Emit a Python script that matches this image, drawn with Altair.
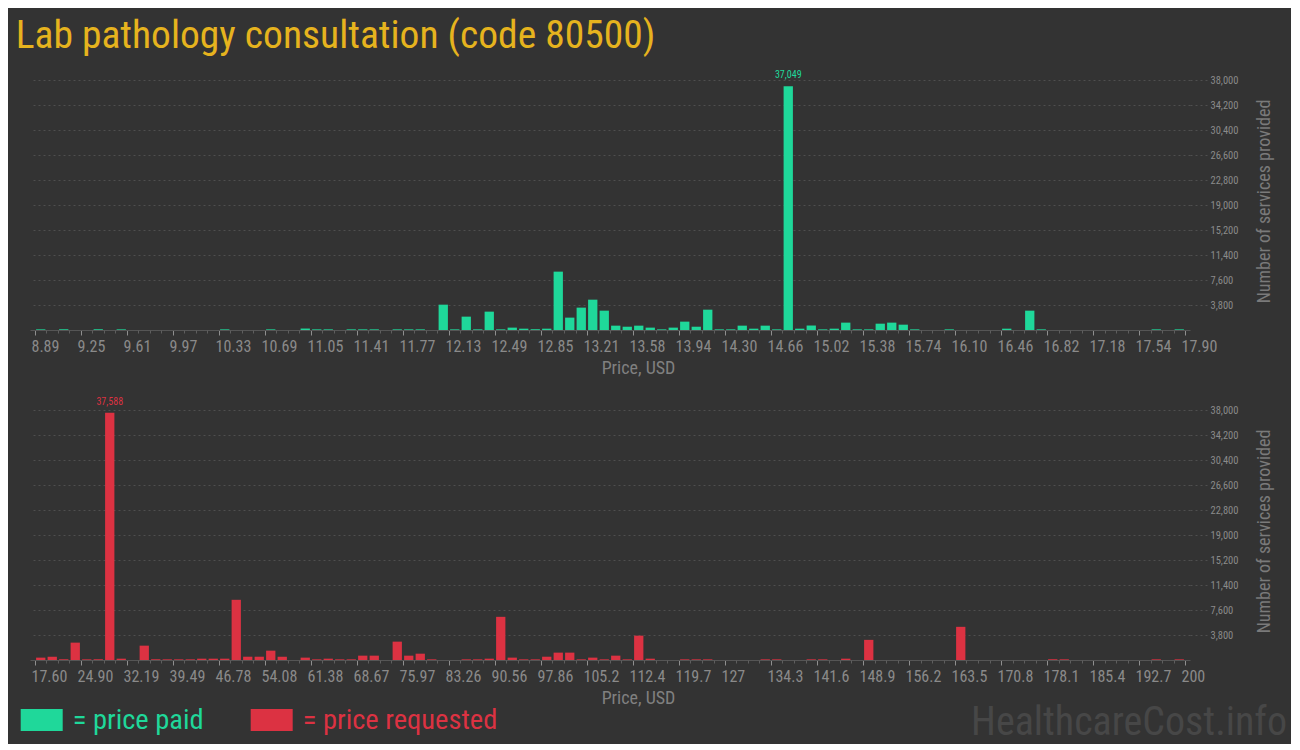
import json
import altair as alt
import pandas as pd

TITLE = "Lab pathology consultation (code 80500)"

paid_labels = ["8.89", "9.25", "9.61", "9.97", "10.33", "10.69", "11.05", "11.41", "11.77",
               "12.13", "12.49", "12.85", "13.21", "13.58", "13.94", "14.30", "14.66", "15.02",
               "15.38", "15.74", "16.10", "16.46", "16.82", "17.18", "17.54", "17.90"]
req_labels = ["17.60", "24.90", "32.19", "39.49", "46.78", "54.08", "61.38", "68.67", "75.97",
              "83.26", "90.56", "97.86", "105.2", "112.4", "119.7", "127", "134.3", "141.6",
              "148.9", "156.2", "163.5", "170.8", "178.1", "185.4", "192.7", "200"]

# number of services per price bin (100 bins per panel)
paid_counts = [
    100, 0, 100, 0, 0, 100, 0, 100, 0, 0,
    0, 0, 0, 0, 0, 0, 100, 0, 0, 0,
    100, 0, 0, 220, 100, 100, 0, 100, 100, 100,
    0, 100, 100, 100, 0, 3850, 100, 2030, 100, 2790,
    100, 360, 200, 120, 200, 8870, 1880, 3400, 4610, 2940,
    660, 500, 660, 360, 100, 360, 1270, 500, 3090, 100,
    100, 660, 200, 660, 100, 37049, 200, 680, 100, 200,
    1120, 100, 100, 960, 1120, 810, 100, 0, 0, 100,
    0, 0, 0, 0, 200, 0, 2940, 100, 0, 0,
    0, 0, 0, 0, 0, 0, 0, 100, 0, 100,
]
req_counts = [
    360, 500, 100, 2640, 100, 100, 37588, 200, 0, 2180,
    100, 100, 100, 100, 200, 200, 200, 9150, 500, 500,
    1420, 500, 0, 360, 100, 200, 100, 100, 660, 660,
    0, 2790, 660, 960, 100, 0, 0, 100, 100, 200,
    6560, 360, 100, 100, 500, 1120, 1120, 100, 360, 100,
    660, 100, 3700, 200, 0, 0, 100, 100, 100, 0,
    0, 0, 0, 100, 100, 0, 0, 100, 100, 0,
    200, 0, 3060, 0, 0, 0, 0, 0, 0, 0,
    5040, 0, 0, 0, 0, 0, 0, 0, 100, 100,
    0, 0, 0, 0, 0, 0, 0, 100, 0, 100,
]
y_ticks = [3800, 7600, 11400, 15200, 19000, 22800, 26600, 30400, 34200, 38000]
y_max = 38000

GREEN = "#1fd89a"
RED = "#dc3242"
BG = "#333333"
FONT = "Liberation Sans Narrow, Roboto Condensed, DejaVu Sans Condensed, sans-serif"
W, H = 1160, 250


def panel(counts, labels, color, extra=()):
    n = len(counts)
    step = n // (len(labels) - 1)
    df = pd.DataFrame({"bin": list(range(n)), "count": counts})
    base = alt.Chart(df).transform_calculate(center="datum.bin + 0.5")
    xscale = alt.Scale(domain=[0, n], nice=False, zero=False)
    yscale = alt.Scale(domain=[0, y_max], nice=False)
    label_expr = f"{json.dumps(labels)}[round(datum.value / {step})]"
    bars = base.mark_bar(size=9.3, color=color).encode(
        x=alt.X("center:Q", scale=xscale, axis=alt.Axis(
            values=list(range(0, n + 1, step)), labelExpr=label_expr,
            labelAlign="left", labelOffset=-4, labelBaseline="top", labelPadding=3,
            labelFont=FONT, labelFontSize=16, labelColor="#8a8a8a", labelOverlap=False,
            labelFlush=False, tickSize=5, tickColor="#8f8f8f", domainColor="#555555",
            grid=False, title="Price, USD", titleFont=FONT, titleFontSize=18,
            titleFontWeight="normal", titleColor="#808080", titleX=608, titleY=29,
            titleAlign="center", titleBaseline="top")),
        y=alt.Y("count:Q", scale=yscale, axis=alt.Axis(
            orient="right", values=y_ticks, labelExpr="format(datum.value, ',.0f')",
            labelFont=FONT, labelFontSize=10.5,
            labelColor="#8a8a8a", labelPadding=3, tickSize=17, tickColor="#4f4f4f",
            tickDash=[2, 3], gridColor="#4f4f4f", gridDash=[2, 3], domain=False,
            title="Number of services provided", titleFont=FONT, titleFontSize=18,
            titleFontWeight="normal", titleColor="#7a7a7a", titleAngle=270,
            titleX=74, titleY=121, titleAlign="center", titleBaseline="middle")),
    )
    peak = base.transform_joinaggregate(mx="max(count)").transform_filter(
        "datum.count == datum.mx").mark_text(
        font=FONT, fontSize=10, color=color, baseline="alphabetic", dy=-8).encode(
        x=alt.X("center:Q", scale=xscale, axis=alt.Axis(
            orient="bottom", values=[v for v in range(n + 1) if v % step], labels=False,
            tickSize=3, tickColor="#5e5e5e", domain=False, grid=False, title=None)),
        y=alt.Y("count:Q", scale=yscale, axis=None),
        text=alt.Text("count:Q", format=","),
    )
    return alt.layer(bars, peak, *extra).resolve_axis(
        x="independent", y="independent").properties(width=W, height=H)


one = pd.DataFrame({"k": [0]})
legend_layers = [
    alt.Chart(one).mark_rect(color=GREEN).encode(
        x=alt.value(-9.3), x2=alt.value(32.7), y=alt.value(299), y2=alt.value(321)),
    alt.Chart(one).mark_text(text="= price paid", align="left", baseline="alphabetic",
                             font=FONT, fontSize=28.5, color=GREEN).encode(
        x=alt.value(42.7), y=alt.value(319)),
    alt.Chart(one).mark_rect(color=RED).encode(
        x=alt.value(220.7), x2=alt.value(262.7), y=alt.value(299), y2=alt.value(321)),
    alt.Chart(one).mark_text(text="= price requested", align="left", baseline="alphabetic",
                             font=FONT, fontSize=28.5, color=RED).encode(
        x=alt.value(272.7), y=alt.value(319)),
    alt.Chart(one).mark_text(text="HealthcareCost.info", align="right", baseline="alphabetic",
                             font=FONT, fontSize=40, color="#474747").encode(
        x=alt.value(1257), y=alt.value(325)),
]

top = panel(paid_counts, paid_labels, GREEN)
bottom = panel(req_counts, req_labels, RED, legend_layers)

chart = alt.vconcat(top, bottom, spacing=80, bounds="flush").properties(
    title=alt.TitleParams(TITLE, anchor="start", frame="group", font=FONT, fontSize=39.5,
                          fontWeight="normal", color="#e6b31e", dx=-14.3, offset=14),
    background=BG,
    padding={"left": 7, "top": 7, "right": 4, "bottom": 1},
).configure_view(stroke=None)

chart.save("out.html", embed_options={"renderer": "svg", "actions": False})
